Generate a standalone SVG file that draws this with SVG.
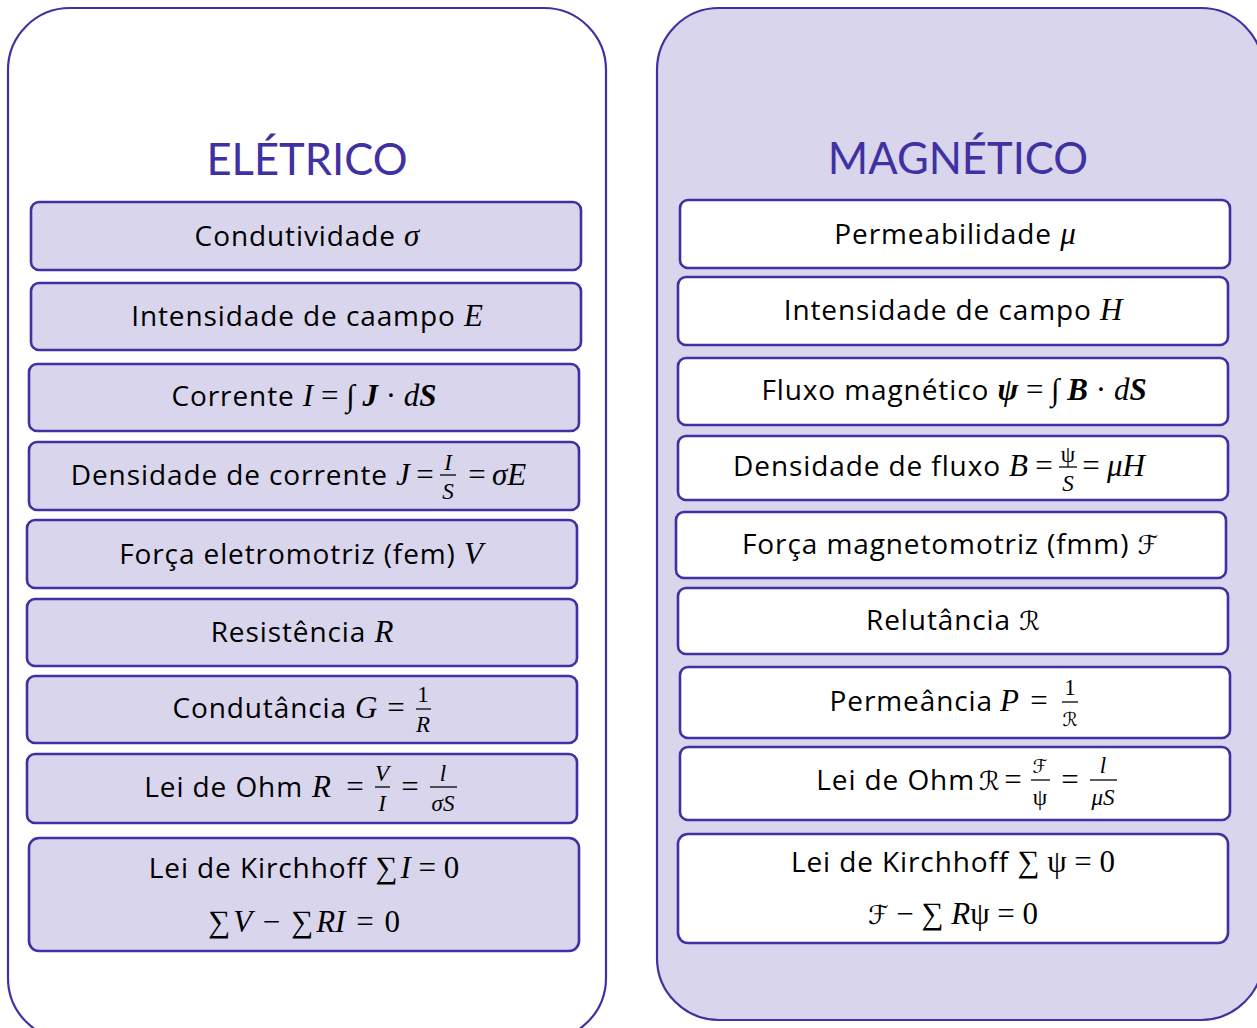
<svg xmlns="http://www.w3.org/2000/svg" width="1257" height="1028" viewBox="0 0 1257 1028">
<style>
.panel{stroke:#3F31A3;stroke-width:2.2}
.box{stroke:#3F31A3;stroke-width:2.6}
.ebox{fill:#D9D5EC}
.mbox{fill:#FFFFFF}
.title{font-family:Lato,"Open Sans",sans-serif;font-size:43.5px;fill:#3F31A3;text-anchor:middle}
.t{font-family:"Open Sans",Lato,sans-serif;font-size:28px;letter-spacing:0.9px;fill:#000}
.c{text-anchor:middle}
.e{text-anchor:end}
.mid{text-anchor:middle}
.m{font-family:"Liberation Serif","DejaVu Serif",serif;font-style:italic;font-size:31px;letter-spacing:0}
.mu{font-family:"Liberation Serif","DejaVu Serif",serif;font-style:normal;font-size:31px;letter-spacing:0}
.sc{font-family:"DejaVu Sans","DejaVu Serif",serif;font-style:normal;font-size:26px;letter-spacing:0}
.b{font-weight:bold}
.fr{font-family:"Liberation Serif","DejaVu Serif",serif;font-size:23px;text-anchor:middle;fill:#000}
.fs{font-family:"DejaVu Sans","DejaVu Serif",serif;font-size:19px;text-anchor:middle;fill:#000}
.it{font-style:italic}
.fl{stroke:#000;stroke-width:1.3}
</style>

<g id="panel-eletrico">
<rect class="panel" x="8" y="8" width="598" height="1032" rx="62" fill="#FFFFFF"/>
<text class="title" x="307" y="175">ELÉTRICO</text>
</g>
<g id="panel-magnetico">
<rect class="panel" x="657" y="8" width="606" height="1012" rx="62" fill="#D9D5EC"/>
<text class="title" x="958" y="174">MAGNÉTICO</text>
</g>

<g id="connectors"></g>

<!-- Electric column -->
<g id="e1">
<rect class="box ebox" x="31" y="202" width="550" height="68" rx="8"/>
<text class="t c" x="307" y="246">Condutividade <tspan class="m">σ</tspan></text>
</g>
<g id="e2">
<rect class="box ebox" x="31" y="283" width="550" height="67" rx="8"/>
<text class="t c" x="307" y="326">Intensidade de caampo <tspan class="m">E</tspan></text>
</g>
<g id="e3">
<rect class="box ebox" x="29" y="364" width="550" height="67" rx="8"/>
<text class="t c" x="304" y="406">Corrente <tspan class="m">I</tspan><tspan class="mu"> = ∫ </tspan><tspan class="m b">J</tspan><tspan class="mu"> · </tspan><tspan class="m">d</tspan><tspan class="m b">S</tspan></text>
</g>
<g id="e4">
<rect class="box ebox" x="29" y="442" width="550" height="68" rx="8"/>
<text class="t e" x="388" y="485">Densidade de corrente</text>
<text class="m" x="396" y="485">J</text>
<text class="mu mid" x="425" y="485">=</text>
<text class="fr it" x="448" y="470">I</text>
<line class="fl" x1="440" y1="475" x2="456" y2="475"/>
<text class="fr it" x="448" y="499">S</text>
<text class="mu mid" x="477" y="485">=</text>
<text class="m" x="492" y="485">σE</text>
</g>
<g id="e5">
<rect class="box ebox" x="27" y="520" width="550" height="68" rx="8"/>
<text class="t c" x="301" y="564">Força eletromotriz (fem) <tspan class="m">V</tspan></text>
</g>
<g id="e6">
<rect class="box ebox" x="27" y="599" width="550" height="67" rx="8"/>
<text class="t c" x="302" y="642">Resistência <tspan class="m">R</tspan></text>
</g>
<g id="e7">
<rect class="box ebox" x="27" y="676" width="550" height="67" rx="8"/>
<text class="t e" x="347" y="718">Condutância</text>
<text class="m" x="355" y="718">G</text>
<text class="mu mid" x="396" y="718">=</text>
<text class="fr" x="423" y="702">1</text>
<line class="fl" x1="416" y1="709" x2="431" y2="709"/>
<text class="fr it" x="423" y="732">R</text>
</g>
<g id="e8">
<rect class="box ebox" x="27" y="754" width="550" height="69" rx="8"/>
<text class="t e" x="303" y="797">Lei de Ohm</text>
<text class="m" x="312" y="797">R</text>
<text class="mu mid" x="355" y="797">=</text>
<text class="fr it" x="382" y="781">V</text>
<line class="fl" x1="375" y1="787" x2="390" y2="787"/>
<text class="fr it" x="382" y="811">I</text>
<text class="mu mid" x="410" y="797">=</text>
<text class="fr it" x="443" y="781">l</text>
<line class="fl" x1="430" y1="787" x2="457" y2="787"/>
<text class="fr it" x="443" y="811">σS</text>
</g>
<g id="e9">
<rect class="box ebox" x="29" y="838" width="550" height="113" rx="10"/>
<text class="t c" x="304" y="878">Lei de Kirchhoff <tspan class="mu">∑</tspan><tspan class="m" dx="3">I</tspan><tspan class="mu"> = 0</tspan></text>
<text class="t c" x="304" y="932"><tspan class="mu">∑</tspan><tspan class="m" dx="3">V</tspan><tspan class="mu" dx="3"> − </tspan><tspan class="mu" dx="3">∑</tspan><tspan class="m" dx="3">RI</tspan><tspan class="mu" dx="3"> = </tspan><tspan class="mu" dx="3">0</tspan></text>
</g>

<!-- Magnetic column -->
<g id="m1">
<rect class="box mbox" x="680" y="200" width="550" height="68" rx="8"/>
<text class="t c" x="955" y="244">Permeabilidade <tspan class="m">μ</tspan></text>
</g>
<g id="m2">
<rect class="box mbox" x="678" y="277" width="550" height="68" rx="8"/>
<text class="t c" x="953" y="320">Intensidade de campo <tspan class="m">H</tspan></text>
</g>
<g id="m3">
<rect class="box mbox" x="678" y="358" width="550" height="67" rx="8"/>
<text class="t c" x="954" y="400">Fluxo magnético <tspan class="m b">ψ</tspan><tspan class="mu"> = ∫ </tspan><tspan class="m b">B</tspan><tspan class="mu"> · </tspan><tspan class="m">d</tspan><tspan class="m b">S</tspan></text>
</g>
<g id="m4">
<rect class="box mbox" x="678" y="436" width="550" height="64" rx="8"/>
<text class="t e" x="1001" y="476">Densidade de fluxo</text>
<text class="m" x="1009" y="476">B</text>
<text class="mu mid" x="1044" y="476">=</text>
<text class="fr" x="1068" y="462">ψ</text>
<line class="fl" x1="1059" y1="467" x2="1077" y2="467"/>
<text class="fr it" x="1068" y="491">S</text>
<text class="mu mid" x="1091" y="476">=</text>
<text class="m" x="1107" y="476">μH</text>
</g>
<g id="m5">
<rect class="box mbox" x="676" y="512" width="550" height="66" rx="8"/>
<text class="t c" x="950" y="554">Força magnetomotriz (fmm) <tspan class="sc">ℱ</tspan></text>
</g>
<g id="m6">
<rect class="box mbox" x="678" y="588" width="550" height="66" rx="8"/>
<text class="t c" x="953" y="630">Relutância <tspan class="sc">ℛ</tspan></text>
</g>
<g id="m7">
<rect class="box mbox" x="680" y="667" width="550" height="71" rx="8"/>
<text class="t e" x="993" y="711">Permeância</text>
<text class="m" x="1000" y="711">P</text>
<text class="mu mid" x="1039" y="711">=</text>
<text class="fr" x="1070" y="695">1</text>
<line class="fl" x1="1062" y1="702" x2="1078" y2="702"/>
<text class="fs" x="1070" y="726">ℛ</text>
</g>
<g id="m8">
<rect class="box mbox" x="680" y="747" width="550" height="73" rx="8"/>
<text class="t e" x="975" y="790">Lei de Ohm</text>
<text class="sc" x="979" y="790">ℛ</text>
<text class="mu mid" x="1013" y="790">=</text>
<text class="fs" x="1040" y="773">ℱ</text>
<line class="fl" x1="1031" y1="780" x2="1050" y2="780"/>
<text class="fr" x="1040" y="805">ψ</text>
<text class="mu mid" x="1070" y="790">=</text>
<text class="fr it" x="1103" y="773">l</text>
<line class="fl" x1="1090" y1="780" x2="1117" y2="780"/>
<text class="fr it" x="1103" y="805">μS</text>
</g>
<g id="m9">
<rect class="box mbox" x="678" y="834" width="550" height="109" rx="10"/>
<text class="t c" x="953" y="872">Lei de Kirchhoff <tspan class="mu">∑ ψ = 0</tspan></text>
<text class="t c" x="953" y="924"><tspan class="sc">ℱ</tspan><tspan class="mu"> − ∑ </tspan><tspan class="m">R</tspan><tspan class="mu">ψ = 0</tspan></text>
</g>
</svg>
